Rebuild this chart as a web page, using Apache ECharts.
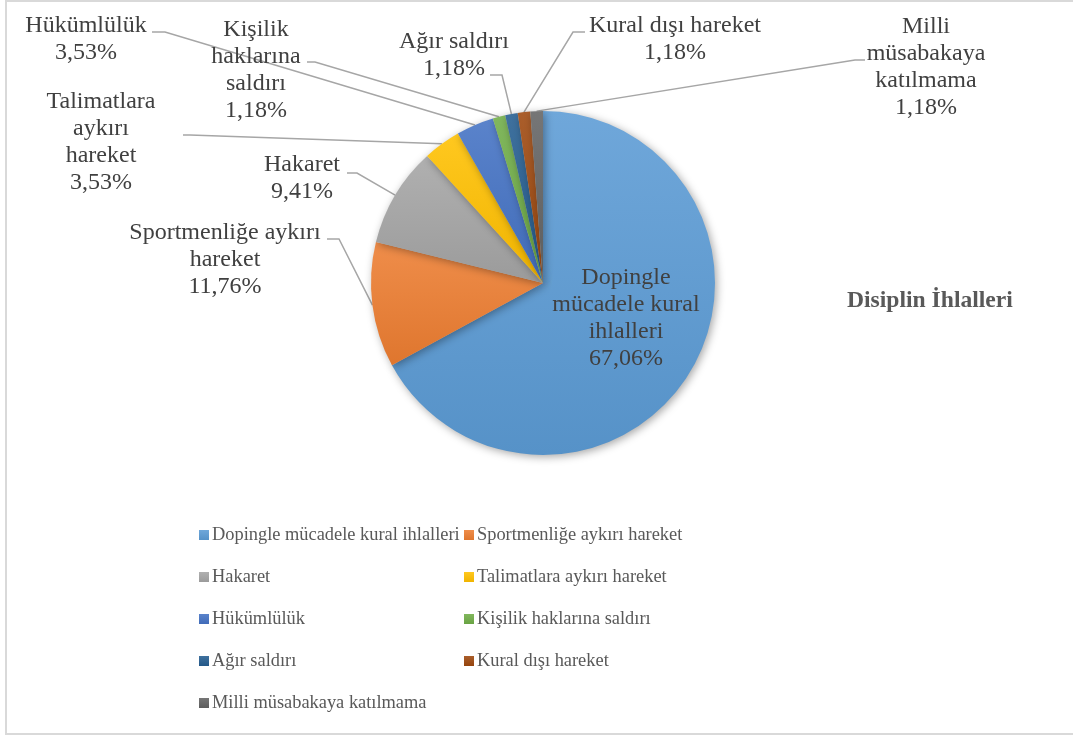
<!DOCTYPE html>
<html>
<head>
<meta charset="utf-8">
<title>Disiplin İhlalleri</title>
<script src="https://cdn.jsdelivr.net/npm/echarts@6/dist/echarts.min.js"></script>
<style>
	html, body { margin: 0; padding: 0; background: #fff; }
	#pie { width: 1073px; height: 737px; }
</style>
</head>
<body>
<div id="pie"></div>
<script>
	// veriler
	var categories = ['Dopingle mücadele kural ihlalleri', 'Sportmenliğe aykırı hareket', 'Hakaret',
		'Talimatlara aykırı hareket', 'Hükümlülük', 'Kişilik haklarına saldırı', 'Ağır saldırı',
		'Kural dışı hareket', 'Milli müsabakaya katılmama'];
	var counts = [57, 10, 8, 3, 3, 1, 1, 1, 1];
	// etiketlerdeki satır kırılımları
	var labelNames = ['Dopingle\nmücadele kural\nihlalleri', 'Sportmenliğe aykırı\nhareket', 'Hakaret',
		'Talimatlara\naykırı\nhareket', 'Hükümlülük', 'Kişilik\nhaklarına\nsaldırı', 'Ağır saldırı',
		'Kural dışı hareket', 'Milli\nmüsabakaya\nkatılmama'];

	var colors = ['#5B9BD5', '#ED7D31', '#A5A5A5', '#FFC000', '#4472C4', '#70AD47', '#255E91', '#9E480E', '#636363'];
	// etiket konumlari (merkez) ve cizgi kirilma noktalari
	var labelPos = [[626, 318], [225, 260], [302, 178], [101, 142], [86, 39], [256, 70], [454, 55], [675, 39], [926, 67]];
	var lineBend = [null, [339, 239], [357, 173], [190, 135], [165, 32], [315, 62], [502, 75], [573, 32], [855, 60]];
	var lineEnd = [null, [327, 239], [347, 173], [183, 135], [152, 32], [307, 62], [490, 75], [585, 32], [865, 60]];

	var font = 'Liberation Serif';
	var total = counts.reduce(function (a, b) { return a + b; }, 0);

	function shade(hex, k) {
		var n = parseInt(hex.slice(1), 16), r = n >> 16, g = (n >> 8) & 255, b = n & 255;
		function f(c) { return Math.round(k > 0 ? c + (255 - c) * k : c * (1 + k)); }
		return 'rgb(' + f(r) + ',' + f(g) + ',' + f(b) + ')';
	}
	function grad(hex) {
		return { type: 'linear', x: 0, y: 0, x2: 0, y2: 1,
			colorStops: [{ offset: 0, color: shade(hex, 0.12) }, { offset: 1, color: shade(hex, -0.06) }] };
	}

	var seriesData = categories.map(function (name, i) {
		var item = { name: name, value: counts[i], itemStyle: { color: grad(colors[i]) } };
		if (i === 0) {
			item.label = { position: 'inside', fontFamily: font };
			item.labelLine = { show: false };
		}
		return item;
	});

	var myChart = echarts.init(document.getElementById('pie'));
	var option = {
		animation: false,
		textStyle: { fontFamily: font },
		title: {
			text: 'Disiplin İhlalleri',
			left: 847,
			top: 289,
			padding: 0,
			textStyle: { fontFamily: font, fontSize: 23.6, fontWeight: 'bold', color: '#595959' }
		},
		legend: {
			left: 199,
			top: 514,
			width: 540,
			padding: 0,
			itemGap: 0,
			itemWidth: 10,
			itemHeight: 10,
			icon: 'rect',
			data: categories,
			textStyle: { fontFamily: font, fontSize: 18.4, color: '#595959', width: 252, lineHeight: 42, padding: [0, 0, 0, -2] }
		},
		graphic: [{
			type: 'rect',
			shape: { x: 6, y: 1, width: 1080, height: 733 },
			style: { fill: 'none', stroke: '#D9D9D9', lineWidth: 2 },
			silent: true
		}],
		series: [{
			name: 'Disiplin İhlalleri',
			type: 'pie',
			center: [543, 283],
			radius: 172,
			startAngle: 90,
			clockwise: true,
			avoidLabelOverlap: false,
			data: seriesData,
			itemStyle: {
				shadowBlur: 8,
				shadowOffsetX: 2,
				shadowOffsetY: 2,
				shadowColor: 'rgba(0,0,0,0.35)'
			},
			label: {
				show: true,
				fontFamily: font,
				fontSize: 24,
				lineHeight: 27,
				color: '#404040',
				align: 'center',
				formatter: function (p) {
					var pct = (counts[p.dataIndex] / total * 100).toFixed(2).replace('.', ',');
					return labelNames[p.dataIndex] + '\n' + pct + '%';
				}
			},
			labelLine: {
				show: true,
				lineStyle: { color: '#A6A6A6', width: 1.5 }
			},
			labelLayout: function (p) {
				var i = p.dataIndex;
				var res = { x: labelPos[i][0], y: labelPos[i][1], align: 'center', verticalAlign: 'middle' };
				if (i > 0 && p.labelLinePoints) {
					res.labelLinePoints = [p.labelLinePoints[0], lineBend[i], lineEnd[i]];
				}
				return res;
			}
		}]
	};
	myChart.setOption(option);
</script>
</body>
</html>
